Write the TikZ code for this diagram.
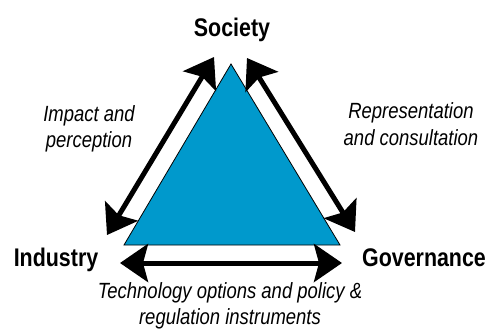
\documentclass[tikz,border=0pt]{standalone}
\usepackage{fontspec}
\setmainfont{Liberation Sans}
\newfontfamily\narrowfont[FakeStretch=0.84]{Liberation Sans}
\usetikzlibrary{arrows.meta}
\definecolor{triblue}{RGB}{0,153,204}
\begin{document}
\begin{tikzpicture}[x=1pt,y=-1pt,
  actor/.style={font=\narrowfont\fontsize{25.5}{27}\selectfont\bfseries, inner sep=0pt, anchor=base},
  relation/.style={font=\narrowfont\fontsize{22}{26.5}\selectfont\itshape, inner sep=0pt, align=center},
  link/.style={line width=5pt, {Stealth[length=28pt,width=38pt,inset=5pt]}-{Stealth[length=28pt,width=38pt,inset=5pt]}}]
\useasboundingbox (0,0) rectangle (490,333);
% central triangle
\coordinate (apex) at (231,64);
\coordinate (bl) at (124,245);
\coordinate (br) at (340,245);
\filldraw[fill=triblue, draw=black, line width=0.8pt] (apex) -- (bl) -- (br) -- cycle;
% actors
\node[actor] (soc) at (232,36) {Society};
\node[actor] (ind) at (56,266) {Industry};
\node[actor] (gov) at (424,266) {Governance};
% arrow end points
\coordinate (l1) at (214,57);
\coordinate (l2) at (107,235);
\coordinate (r1) at (247,58);
\coordinate (r2) at (355,232);
\coordinate (b1) at (120,263);
\coordinate (b2) at (342,263);
\draw[link] (l1) -- (l2);
\draw[link] (r1) -- (r2);
\draw[link] (b1) -- (b2);
% relation labels
\node[relation] (lab1) at (89,129) {Impact and\\perception};
\node[relation] (lab2) at (411,124) {Representation\\and consultation};
\node[relation] (lab3) at (230,306) {Technology options and policy \&\\regulation instruments};
\end{tikzpicture}
\end{document}
